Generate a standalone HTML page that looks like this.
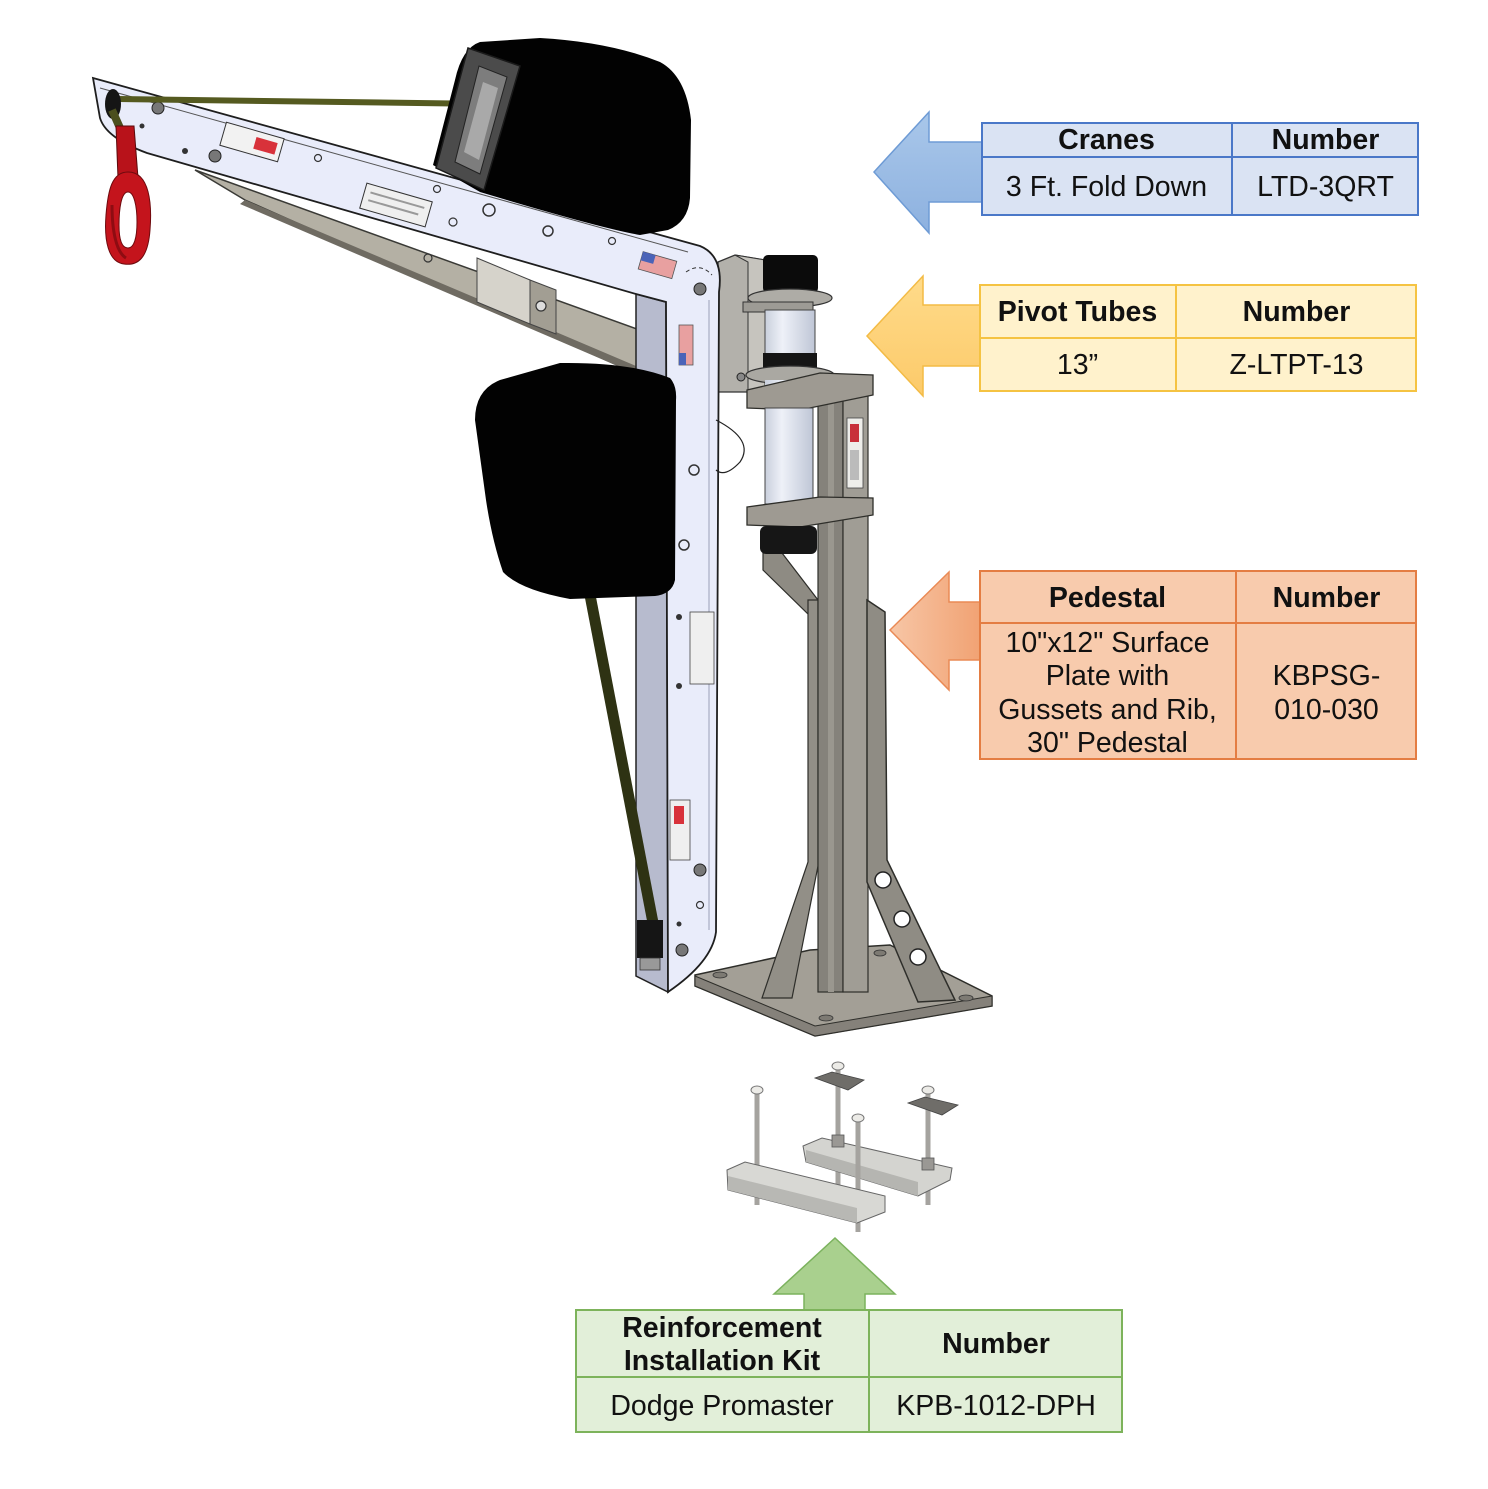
<!DOCTYPE html>
<html>
<head>
<meta charset="utf-8">
<style>
  html,body{margin:0;padding:0;background:#fff;}
  body{width:1488px;height:1489px;position:relative;overflow:hidden;font-family:"Liberation Sans",Arial,sans-serif;}
  svg.bg{position:absolute;left:0;top:0;}
  .tbl{position:absolute;box-sizing:border-box;}
  .ln{position:absolute;}
  .c{position:absolute;display:flex;align-items:center;justify-content:center;text-align:center;font-size:28.5px;color:#111;line-height:33.5px;}
  .b{font-weight:bold;}
</style>
</head>
<body>
<svg class="bg" width="1488" height="1489" viewBox="0 0 1488 1489" xmlns="http://www.w3.org/2000/svg">
  <defs>
    <linearGradient id="tube" x1="0" x2="1" y1="0" y2="0">
      <stop offset="0" stop-color="#c9cfdc"/>
      <stop offset="0.35" stop-color="#eef1f8"/>
      <stop offset="1" stop-color="#bfc6d6"/>
    </linearGradient>
    <linearGradient id="og" x1="0" x2="1" y1="0" y2="0">
      <stop offset="0" stop-color="#f7c6a6"/>
      <stop offset="1" stop-color="#f1a273"/>
    </linearGradient>
    <linearGradient id="bg" x1="0" x2="0" y1="0" y2="1">
      <stop offset="0" stop-color="#a9c7ea"/>
      <stop offset="1" stop-color="#8db1df"/>
    </linearGradient>
    <linearGradient id="yg" x1="0" x2="0" y1="0" y2="1">
      <stop offset="0" stop-color="#ffdb8a"/>
      <stop offset="1" stop-color="#fcca6a"/>
    </linearGradient>
  </defs>

  <!-- ARROWS -->
  <polygon points="874,172 929,112 929,142 983,142 983,202 929,202 929,233" fill="url(#bg)" stroke="#6e9bd5" stroke-width="1.5"/>
  <polygon points="867,336 923,276 923,305 981,305 981,366 923,366 923,396" fill="url(#yg)" stroke="#f3bb45" stroke-width="1.5"/>
  <polygon points="890,630 949,572 949,602 981,602 981,660 949,660 949,690" fill="url(#og)" stroke="#ea8a55" stroke-width="1.5"/>
  <polygon points="835,1238 895,1294 865,1294 865,1311 804,1311 804,1294 774,1294" fill="#a9d08e" stroke="#7bb25d" stroke-width="1.5"/>

  <!-- BRACE (behind boom) -->
  <polygon points="195,170 662,338 662,385 245,200" fill="#b4b0a4" stroke="#3a3a36" stroke-width="1.5"/>
  <polygon points="245,200 662,377 662,385 240,204" fill="#6f6b62"/>
  <polygon points="477,258 530,280 530,324 477,302" fill="#d6d3cb" stroke="#444" stroke-width="1"/>
  <polygon points="530,280 556,290 556,334 530,324" fill="#a29e93" stroke="#444" stroke-width="1"/>
  <circle cx="541" cy="306" r="5" fill="#ddd" stroke="#333" stroke-width="1.2"/>
  <circle cx="428" cy="258" r="4" fill="none" stroke="#333" stroke-width="1.2"/>

  <!-- PEDESTAL -->
  <polygon points="695,975 810,950 890,945 992,996 992,1006 815,1036 695,986" fill="#a39f96" stroke="#2e2e2a" stroke-width="1.5"/>
  <polygon points="695,976 815,1026 992,996 992,1006 815,1036 695,986" fill="#85817a" stroke="#2e2e2a" stroke-width="1"/>
  <ellipse cx="720" cy="975" rx="7" ry="3" fill="#7d7a73" stroke="#333" stroke-width="0.8"/>
  <ellipse cx="826" cy="1018" rx="7" ry="3" fill="#7d7a73" stroke="#333" stroke-width="0.8"/>
  <ellipse cx="966" cy="998" rx="7" ry="3" fill="#7d7a73" stroke="#333" stroke-width="0.8"/>
  <ellipse cx="880" cy="953" rx="6" ry="3" fill="#7d7a73" stroke="#333" stroke-width="0.8"/>
  <polygon points="763,553 782,553 818,600 818,620 808,614 763,570" fill="#8e8b83" stroke="#2e2e2a" stroke-width="1.2"/>
  <polygon points="808,600 818,600 818,866 792,998 762,998 808,862" fill="#928f87" stroke="#2e2e2a" stroke-width="1.2"/>
  <rect x="818" y="392" width="25" height="600" fill="#85827b" stroke="#2e2e2a" stroke-width="1.2"/>
  <rect x="843" y="392" width="25" height="600" fill="#a09d95" stroke="#2e2e2a" stroke-width="1.2"/>
  <rect x="828" y="392" width="6" height="600" fill="#9a978f"/>
  <rect x="847" y="418" width="16" height="70" fill="#eeeeea" stroke="#444" stroke-width="0.8"/>
  <rect x="850" y="424" width="9" height="18" fill="#c8303a"/>
  <rect x="850" y="450" width="9" height="30" fill="#bbb"/>
  <polygon points="867,600 885,612 887,860 955,1000 918,1002 867,882" fill="#8f8c84" stroke="#2e2e2a" stroke-width="1.5"/>
  <circle cx="883" cy="880" r="8" fill="#fff" stroke="#222" stroke-width="1.5"/>
  <circle cx="902" cy="919" r="8" fill="#fff" stroke="#222" stroke-width="1.5"/>
  <circle cx="918" cy="957" r="8" fill="#fff" stroke="#222" stroke-width="1.5"/>
  <polygon points="718,262 735,255 765,260 765,392 718,392" fill="#b3b1ab" stroke="#333" stroke-width="1.3"/>
  <polygon points="735,255 765,260 765,392 748,392 748,262" fill="#c6c4be" stroke="#333" stroke-width="1"/>
  <circle cx="741" cy="377" r="4" fill="#888" stroke="#222"/>
  <rect x="763" y="255" width="55" height="38" rx="5" fill="#0b0b0b"/>
  <ellipse cx="790" cy="298" rx="42" ry="9" fill="#aeaca6" stroke="#333" stroke-width="1.2"/>
  <rect x="743" y="302" width="70" height="10" fill="#9d9b95" stroke="#333" stroke-width="1"/>
  <rect x="765" y="310" width="50" height="45" fill="url(#tube)" stroke="#444" stroke-width="1"/>
  <rect x="763" y="353" width="54" height="17" fill="#151515"/>
  <ellipse cx="790" cy="375" rx="44" ry="9" fill="#aaa8a2" stroke="#333" stroke-width="1.2"/>
  <rect x="765" y="380" width="50" height="10" fill="url(#tube)"/>
  <polygon points="747,390 820,373 873,375 873,395 800,410 747,408" fill="#9e9a92" stroke="#2e2e2a" stroke-width="1.3"/>
  <rect x="765" y="408" width="48" height="96" fill="url(#tube)" stroke="#444" stroke-width="1"/>
  <polygon points="747,507 820,497 873,498 873,515 800,527 747,525" fill="#9e9a92" stroke="#2e2e2a" stroke-width="1.3"/>
  <rect x="760" y="526" width="57" height="28" rx="6" fill="#161616"/>

  <!-- MAST SIDE -->
  <polygon points="636,294 666,302 668,992 636,976" fill="#b7bbce" stroke="#222" stroke-width="1.5"/>
  <!-- BOOM + MAST FACE -->
  <path d="M93,78 L700,246 Q724,256 719,292 L716,932 Q712,962 668,992 L666,302 L636,294 L147,153 Q106,138 100,118 Z" fill="#e9ecfa" stroke="#1e1e1e" stroke-width="1.8"/>
  <line x1="100" y1="88" x2="688" y2="252" stroke="#555" stroke-width="1"/>
  <line x1="709" y1="300" x2="709" y2="930" stroke="#9aa0b8" stroke-width="1"/>
  <g transform="rotate(16 252 142)">
    <rect x="222" y="130" width="60" height="24" fill="#f2f2f2" stroke="#333" stroke-width="1"/>
    <rect x="255" y="136" width="22" height="12" fill="#d8323a"/>
  </g>
  <g transform="rotate(16 396 205)">
    <rect x="362" y="192" width="68" height="26" fill="#efefef" stroke="#333" stroke-width="1"/>
    <line x1="368" y1="200" x2="424" y2="200" stroke="#999" stroke-width="2"/>
    <line x1="368" y1="208" x2="420" y2="208" stroke="#999" stroke-width="2"/>
  </g>
  <circle cx="158" cy="108" r="6" fill="#777" stroke="#222"/>
  <circle cx="215" cy="156" r="6" fill="#777" stroke="#222"/>
  <circle cx="142" cy="126" r="2.5" fill="#333"/>
  <circle cx="185" cy="151" r="3" fill="#333"/>
  <circle cx="318" cy="158" r="3.5" fill="none" stroke="#333" stroke-width="1.2"/>
  <circle cx="437" cy="189" r="3.5" fill="none" stroke="#333" stroke-width="1.2"/>
  <circle cx="453" cy="222" r="4" fill="none" stroke="#333" stroke-width="1.2"/>
  <circle cx="489" cy="210" r="6" fill="none" stroke="#333" stroke-width="1.5"/>
  <circle cx="548" cy="231" r="5" fill="none" stroke="#333" stroke-width="1.5"/>
  <circle cx="612" cy="241" r="3.5" fill="none" stroke="#333" stroke-width="1.2"/>
  <circle cx="700" cy="289" r="6" fill="#777" stroke="#222"/>
  <path d="M686,272 Q700,262 712,275" fill="none" stroke="#333" stroke-width="1" stroke-dasharray="4 3"/>
  <g transform="rotate(16 657 265)">
    <rect x="640" y="256" width="35" height="18" fill="#e8a0a0" stroke="#555" stroke-width="0.8"/>
    <rect x="640" y="256" width="13" height="9" fill="#4a63b8"/>
  </g>
  <rect x="679" y="325" width="14" height="40" fill="#e8a0a0" stroke="#555" stroke-width="0.8"/>
  <rect x="679" y="353" width="7" height="12" fill="#4a63b8"/>
  <rect x="690" y="612" width="24" height="72" fill="#efefef" stroke="#444" stroke-width="0.8"/>
  <rect x="670" y="800" width="20" height="60" fill="#efefef" stroke="#444" stroke-width="0.8"/>
  <rect x="674" y="806" width="10" height="18" fill="#d8323a"/>
  <circle cx="679" cy="617" r="3" fill="#333"/>
  <circle cx="679" cy="686" r="3" fill="#333"/>
  <circle cx="700" cy="870" r="6" fill="#777" stroke="#222"/>
  <circle cx="700" cy="905" r="3.5" fill="none" stroke="#333" stroke-width="1.2"/>
  <circle cx="682" cy="950" r="6" fill="#777" stroke="#222"/>
  <circle cx="679" cy="924" r="2.5" fill="#333"/>
  <circle cx="684" cy="545" r="5" fill="none" stroke="#333" stroke-width="1.5"/>
  <circle cx="694" cy="470" r="5" fill="none" stroke="#333" stroke-width="1.5"/>
  <path d="M716,420 Q755,440 740,462 Q725,478 716,470" fill="none" stroke="#222" stroke-width="1.2"/>

  <!-- HOOK & STRAPS -->
  <line x1="118" y1="99" x2="490" y2="104" stroke="#555a20" stroke-width="6"/>
  <ellipse cx="113" cy="104" rx="8" ry="15" fill="#151515"/>
  <path d="M112,110 L120,128 L130,135" fill="none" stroke="#4b4f1e" stroke-width="8"/>
  <path d="M116,126 L134,126 L138,178 L118,178 Z" fill="#b8121a" stroke="#5a0a0c" stroke-width="1"/>
  <path d="M128,172 C150,172 152,205 150,230 C148,258 138,266 124,264 C108,262 104,240 106,215 C108,190 112,172 128,172 Z M128,192 C121,192 119,210 119,225 C119,240 122,248 128,248 C134,248 137,238 137,222 C137,206 134,192 128,192 Z" fill="#c4141c" fill-rule="evenodd" stroke="#6e0a0e" stroke-width="1"/>
  <path d="M112,205 C112,230 116,252 126,258" fill="none" stroke="#8e0c12" stroke-width="3"/>
  <line x1="590" y1="595" x2="654" y2="928" stroke="#2e3213" stroke-width="11"/>
  <rect x="637" y="920" width="26" height="38" fill="#151515"/>
  <rect x="640" y="958" width="20" height="12" fill="#999" stroke="#333" stroke-width="0.8"/>

  <!-- WEIGHTS -->
  <path d="M433,165 L455,80 Q462,48 480,42 L540,38 Q610,42 660,62 Q686,76 691,120 L690,198 Q688,222 668,230 L640,235 Q600,228 480,192 Z" fill="#020202"/>
  <polygon points="436,168 468,48 520,66 484,190" fill="#4b4b4b" stroke="#1a1a1a" stroke-width="1.5"/>
  <polygon points="455,162 479,66 507,77 480,174" fill="#7d7d7d" stroke="#222" stroke-width="1"/>
  <polygon points="464,152 483,82 498,88 479,160" fill="#a9a9a9"/>
  <path d="M475,420 Q475,390 500,380 L560,363 Q630,362 670,378 Q677,386 676,400 L675,580 Q672,594 655,596 L570,599 Q520,590 503,572 Q492,540 486,500 Z" fill="#020202"/>

  <!-- REINFORCEMENT KIT -->
  <line x1="838" y1="1066" x2="838" y2="1185" stroke="#a5a39f" stroke-width="5"/>
  <line x1="928" y1="1090" x2="928" y2="1205" stroke="#a5a39f" stroke-width="5"/>
  <polygon points="803,1146 822,1138 952,1168 950,1180 918,1196 806,1162" fill="#d4d4d0" stroke="#666" stroke-width="1"/>
  <polygon points="806,1150 918,1182 918,1196 806,1162" fill="#b5b5b1"/>
  <polygon points="815,1078 832,1072 864,1080 848,1090" fill="#6f6d69" stroke="#444" stroke-width="0.8"/>
  <polygon points="908,1103 925,1097 958,1105 942,1115" fill="#6f6d69" stroke="#444" stroke-width="0.8"/>
  <rect x="832" y="1135" width="12" height="12" fill="#9a9894" stroke="#555" stroke-width="0.8"/>
  <rect x="922" y="1158" width="12" height="12" fill="#9a9894" stroke="#555" stroke-width="0.8"/>
  <ellipse cx="838" cy="1066" rx="6" ry="4" fill="#ecebe7" stroke="#777" stroke-width="1"/>
  <ellipse cx="928" cy="1090" rx="6" ry="4" fill="#ecebe7" stroke="#777" stroke-width="1"/>
  <line x1="757" y1="1090" x2="757" y2="1205" stroke="#a5a39f" stroke-width="5"/>
  <line x1="858" y1="1118" x2="858" y2="1232" stroke="#a5a39f" stroke-width="5"/>
  <polygon points="727,1170 745,1162 885,1196 885,1212 857,1223 728,1190" fill="#d8d8d4" stroke="#666" stroke-width="1"/>
  <polygon points="728,1176 857,1208 857,1223 728,1190" fill="#b8b8b4"/>
  <ellipse cx="757" cy="1090" rx="6" ry="4" fill="#ecebe7" stroke="#777" stroke-width="1"/>
  <ellipse cx="858" cy="1118" rx="6" ry="4" fill="#ecebe7" stroke="#777" stroke-width="1"/>
</svg>

<!-- CRANES TABLE -->
<div class="tbl" style="left:981px;top:122px;width:438px;height:94px;background:#dae3f3;border:2px solid #4a78c8;"></div>
<div class="ln" style="left:981px;top:156px;width:438px;height:2px;background:#4a78c8;"></div>
<div class="ln" style="left:1231px;top:122px;width:2px;height:94px;background:#4a78c8;"></div>
<div class="c b" style="left:981px;top:123px;width:251px;height:35px;">Cranes</div>
<div class="c b" style="left:1232px;top:123px;width:187px;height:35px;">Number</div>
<div class="c" style="left:981px;top:159px;width:251px;height:58px;">3 Ft. Fold Down</div>
<div class="c" style="left:1232px;top:159px;width:187px;height:58px;">LTD-3QRT</div>

<!-- PIVOT TUBES TABLE -->
<div class="tbl" style="left:979px;top:284px;width:438px;height:108px;background:#fff2cc;border:2px solid #f5c342;"></div>
<div class="ln" style="left:979px;top:337px;width:438px;height:2px;background:#f5c342;"></div>
<div class="ln" style="left:1175px;top:284px;width:2px;height:108px;background:#f5c342;"></div>
<div class="c b" style="left:979px;top:286px;width:197px;height:54px;">Pivot Tubes</div>
<div class="c b" style="left:1176px;top:286px;width:241px;height:54px;">Number</div>
<div class="c" style="left:979px;top:339px;width:197px;height:53px;">13”</div>
<div class="c" style="left:1176px;top:339px;width:241px;height:53px;">Z-LTPT-13</div>

<!-- PEDESTAL TABLE -->
<div class="tbl" style="left:979px;top:570px;width:438px;height:190px;background:#f8cbad;border:2px solid #e47d43;"></div>
<div class="ln" style="left:979px;top:622px;width:438px;height:2px;background:#e47d43;"></div>
<div class="ln" style="left:1235px;top:570px;width:2px;height:190px;background:#e47d43;"></div>
<div class="c b" style="left:979px;top:572px;width:257px;height:53px;">Pedestal</div>
<div class="c b" style="left:1236px;top:572px;width:181px;height:53px;">Number</div>
<div class="c" style="left:979px;top:626px;width:257px;height:135px;">10"x12" Surface<br>Plate with<br>Gussets and Rib,<br>30" Pedestal</div>
<div class="c" style="left:1236px;top:626px;width:181px;height:135px;">KBPSG-<br>010-030</div>

<!-- REINFORCEMENT TABLE -->
<div class="tbl" style="left:575px;top:1309px;width:548px;height:124px;background:#e2efd9;border:2px solid #7db35b;"></div>
<div class="ln" style="left:575px;top:1376px;width:548px;height:2px;background:#7db35b;"></div>
<div class="ln" style="left:868px;top:1309px;width:2px;height:124px;background:#7db35b;"></div>
<div class="c b" style="left:575px;top:1311px;width:294px;height:68px;">Reinforcement<br>Installation Kit</div>
<div class="c b" style="left:869px;top:1311px;width:254px;height:68px;">Number</div>
<div class="c" style="left:575px;top:1380px;width:294px;height:54px;">Dodge Promaster</div>
<div class="c" style="left:869px;top:1380px;width:254px;height:54px;">KPB-1012-DPH</div>
</body>
</html>
